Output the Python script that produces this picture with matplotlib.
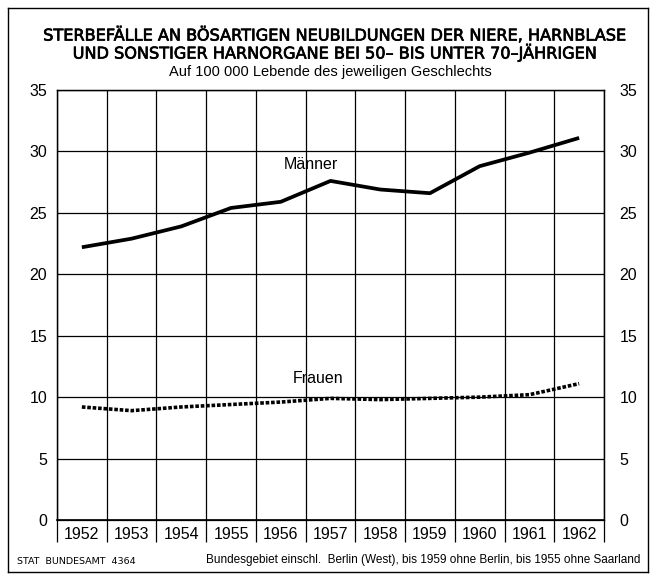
import matplotlib
matplotlib.use("Agg")
import matplotlib.pyplot as plt
import matplotlib.patheffects as pe
from matplotlib.lines import Line2D

# Daten
years = [1952, 1953, 1954, 1955, 1956, 1957, 1958, 1959, 1960, 1961, 1962]
maenner = [22.2, 22.9, 23.9, 25.4, 25.9, 27.6, 26.9, 26.6, 28.8, 29.9, 31.1]
frauen = [9.2, 8.9, 9.2, 9.4, 9.6, 9.9, 9.8, 9.9, 10.0, 10.2, 11.1]
y_ticks = [0, 5, 10, 15, 20, 25, 30, 35]

NARROW = ["Liberation Sans Narrow", "Liberation Sans", "DejaVu Sans"]

W, H = 653, 574
fig = plt.figure(figsize=(W / 100, H / 100), dpi=100)

left, right, top, bottom = 57, 604, 90, 520
ax = fig.add_axes([left / W, 1 - bottom / H, (right - left) / W, (bottom - top) / H])

x = list(range(len(years)))
ax.plot(x, maenner, color="black", lw=2.7, solid_capstyle="butt", solid_joinstyle="round")
ax.plot(x, frauen, color="black", lw=2.6, linestyle=(0, (1.0, 0.5)), dash_capstyle="butt")

ax.set_xlim(-0.5, len(years) - 0.5)
ax.set_ylim(0, 35)

# y-Achse links
ax.set_yticks(y_ticks)
ax.set_yticklabels([str(v) for v in y_ticks], family=NARROW, fontsize=11.5)
ax.tick_params(axis="y", length=0, pad=7)

# y-Achse rechts
ax2 = ax.twinx()
ax2.set_ylim(0, 35)
ax2.set_yticks(y_ticks)
ax2.set_yticklabels([str(v) for v in y_ticks], family=NARROW, fontsize=11.5)
ax2.tick_params(axis="y", length=0, pad=11)

# Jahreszahlen zwischen den Gitterlinien
ax.set_xticks(x)
ax.set_xticklabels([str(y) for y in years], family=NARROW, fontsize=11.5)
ax.tick_params(axis="x", which="major", length=0, pad=5)
ax.set_xticks([i - 0.5 for i in range(len(years) + 1)], minor=True)
ax.tick_params(axis="x", which="minor", length=16, width=0.9, direction="out", color="black")

ax.grid(True, axis="y", which="major", color="black", lw=0.9)
ax.grid(True, axis="x", which="minor", color="black", lw=0.9)
for a in (ax, ax2):
    for s in a.spines.values():
        s.set_linewidth(0.9)
ax.spines["bottom"].set_linewidth(1.2)

ax.text(4.6, 28.9, "Männer", family=NARROW, fontsize=11.5, ha="center", va="center")
ax.text(4.75, 11.5, "Frauen", family=NARROW, fontsize=11.5, ha="center", va="center")

# Titel
thick = [pe.withStroke(linewidth=0.5, foreground="black")]
fig.text(335 / W, 1 - 35 / H, "STERBEFÄLLE AN BÖSARTIGEN NEUBILDUNGEN DER NIERE, HARNBLASE",
         ha="center", va="center", fontsize=11.6, path_effects=thick)
fig.text(335 / W, 1 - 53 / H, "UND SONSTIGER HARNORGANE BEI 50– BIS UNTER 70–JÄHRIGEN",
         ha="center", va="center", fontsize=11.6, path_effects=thick)
fig.text(330 / W, 1 - 72 / H, "Auf 100 000 Lebende des jeweiligen Geschlechts",
         ha="center", va="center", fontsize=10.5, family=NARROW)

# Fußzeile
fig.text(17 / W, 1 - 562 / H, "STAT  BUNDESAMT  4364", ha="left", va="center", fontsize=6.8)
fig.text(640 / W, 1 - 560 / H,
         "Bundesgebiet einschl.  Berlin (West), bis 1959 ohne Berlin, bis 1955 ohne Saarland",
         ha="right", va="center", fontsize=8.5, family=NARROW)

# Rahmen
x0, x1, y0, y1 = 8 / W, 648 / W, 1 - 572 / H, 1 - 8 / H
for xs, ys in [([x0, x1], [y1, y1]), ([x0, x0], [y0, y1]), ([x1, x1], [y0, y1]), ([x0, x1], [y0, y0])]:
    fig.add_artist(Line2D(xs, ys, transform=fig.transFigure, color="black", lw=1.0))

fig.savefig("out.png", dpi=100)
